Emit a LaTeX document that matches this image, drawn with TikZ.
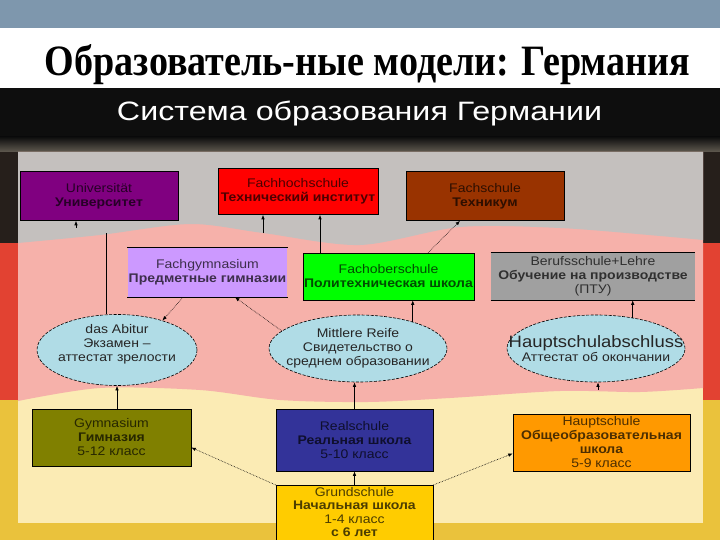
\documentclass[tikz,border=0pt]{standalone}
\usepackage{fontspec}
\usepackage{graphicx}
\usetikzlibrary{shapes.geometric,arrows.meta}
\setmainfont{Liberation Serif}
\newfontfamily\boxfont[FakeStretch=1.12]{Liberation Sans}
\newfontfamily\headfont{Liberation Sans}
\definecolor{topbar}{RGB}{126,151,173}
\definecolor{band}{RGB}{14,14,14}
\definecolor{stripbrown}{RGB}{96,90,80}
\definecolor{flagblack}{RGB}{38,31,27}
\definecolor{flagred}{RGB}{226,66,50}
\definecolor{flaggold}{RGB}{234,194,60}
\definecolor{panelgrey}{RGB}{196,192,190}
\definecolor{panelpink}{RGB}{246,177,170}
\definecolor{panelyellow}{RGB}{251,235,180}
\definecolor{uni}{RGB}{128,0,128}
\definecolor{fhs}{RGB}{255,0,0}
\definecolor{fsch}{RGB}{153,51,0}
\definecolor{fgym}{RGB}{204,153,255}
\definecolor{fos}{RGB}{0,255,0}
\definecolor{bsl}{RGB}{160,160,160}
\definecolor{examblue}{RGB}{176,220,230}
\definecolor{gym}{RGB}{128,128,0}
\definecolor{real}{RGB}{51,51,153}
\definecolor{hs}{RGB}{255,153,0}
\definecolor{grund}{RGB}{255,204,0}
\newcommand{\drawedges}[1]{\draw[line] (#1.north west) -- (#1.north east) (#1.south west) -- (#1.south east);}
\tikzset{
  school/.style={draw, line width=.6pt, fill=#1, text=#1!30!black, align=center,
    font=\boxfont\fontsize{12.5}{14}\selectfont, inner sep=1pt},
  openschool/.style={school=#1, draw=none},
  exam/.style={ellipse, draw, line width=.6pt, dash pattern=on 3pt off 1.5pt, fill=examblue,
    text=black!85, align=center, font=\boxfont\fontsize{12.5}{14}\selectfont,
    inner xsep=-25pt, inner ysep=-10pt},
  line/.style={line width=.6pt},
  arr/.style={line, -{Latex[length=4.5pt,width=3.5pt]}},
  dotarr/.style={arr, densely dotted}
}
\begin{document}
\begin{tikzpicture}[x=1pt,y=-1pt]
\useasboundingbox (0,0) rectangle (720,540);
\fill[topbar] (0,0) rectangle (720,28);
\fill[white] (0,28) rectangle (720,88);
\fill[band] (0,88) rectangle (720,137);
\fill[flagblack] (0,137) rectangle (720,243);
\fill[flagred] (0,243) rectangle (720,400);
\fill[flaggold] (0,400) rectangle (720,540);
\shade[top color=band, bottom color=stripbrown] (0,137) rectangle (720,152);
\fill[panelyellow] (18,152) rectangle (703,523);
\fill[panelpink] (18,152) -- plot[smooth] coordinates {(18,401) (100,388) (200,390) (280,400) (368,402) (450,398) (560,391) (640,392) (703,388)} -- (703,152) -- cycle;
\fill[panelgrey] (18,152) -- plot[smooth] coordinates {(18,243) (100,235) (190,224) (263,233) (360,245) (460,227) (560,228) (660,236) (703,240)} -- (703,152) -- cycle;
\node[anchor=base, inner sep=0pt] (title) at (367.5,76) {\resizebox{645pt}{31pt}{\bfseries Образователь-ные модели: Германия}};
\node[anchor=base, inner sep=0pt, text=white] (subtitle) at (359.5,121) {\resizebox{485pt}{19.5pt}{\headfont Система образования Германии}};
\node[school=uni, minimum width=158pt, minimum height=49pt] (uni) at (99,196) {Universität\\\textbf{Университет}};
\node[school=fhs, minimum width=160pt, minimum height=46pt] (fhs) at (298,191.5) {Fachhochschule\\\textbf{Технический институт}};
\node[school=fsch, minimum width=158pt, minimum height=49pt] (fsch) at (485,196) {Fachschule\\\textbf{Техникум}};
\node[openschool=fgym, minimum width=159pt, minimum height=49pt] (fgym) at (207.5,272.5) {Fachgymnasium\\\textbf{Предметные гимназии}};
\node[school=fos, minimum width=159pt, minimum height=47pt] (fos) at (388.5,276.5) {Fachoberschule\\\textbf{Политехническая школа}};
\node[openschool=bsl, minimum width=204pt, minimum height=47pt] (bsl) at (593,276.5) {Berufsschule+Lehre\\\textbf{Обучение на производстве}\\(ПТУ)};
\drawedges{fgym}\drawedges{bsl}
\node[exam, minimum width=160pt, minimum height=71pt] (abitur) at (117,350) {das Abitur\\Экзамен –\\аттестат зрелости\\\mbox{}};
\node[exam, minimum width=178pt, minimum height=67pt] (mr) at (358,348.5) {Mittlere Reife\\Свидетельство о\\среднем образовании};
\node[exam, minimum width=178pt, minimum height=67pt] (hsa) at (596,348.5) {{\fontsize{16.5}{18}\selectfont Hauptschulabschluss}\\Аттестат об окончании};
\node[school=gym, minimum width=159pt, minimum height=57pt] (gym) at (111.5,437.5) {Gymnasium\\\textbf{Гимназия}\\5-12 класс};
\node[school=real, minimum width=157pt, minimum height=62pt] (real) at (354.5,440) {Realschule\\\textbf{Реальная школа}\\5-10 класс};
\node[school=hs, minimum width=177pt, minimum height=57pt] (hs) at (601.5,442.5) {Hauptschule\\\textbf{Общеобразовательная}\\\textbf{школа}\\5-9 класс};
\node[school=grund, minimum width=157pt, anchor=north, inner ysep=2pt, text depth=12pt, font=\boxfont\fontsize{12.5}{13.5}\selectfont] (grund) at (354.5,485) {Grundschule\\\textbf{Начальная школа}\\1-4 класс\\\textbf{с 6 лет}};
\coordinate (abiturend) at (106,233);
\coordinate (unitip) at (76,228);
\coordinate (fhsstub) at (263,233);
\coordinate (hsastub) at (598,390);
\draw[line] ([xshift=-11pt]abitur.north) -- (abiturend);
\draw[arr] (unitip) -- (unitip |- uni.south);
\draw[arr] (fhsstub) -- (fhsstub |- fhs.south);
\draw[arr] ([xshift=-68.5pt]fos.north) -- ([xshift=22pt]fhs.south);
\draw[dotarr] ([xshift=39.5pt]fos.north) -- ([xshift=-25pt]fsch.south);
\draw[dotarr] ([xshift=-24.5pt]fgym.south) -- (abitur.33);
\draw[dotarr] (mr.167) -- ([xshift=27.5pt]fgym.south);
\draw[arr] (mr.26) -- (mr.26 |- fos.south);
\draw[arr] (hsa.40) -- (hsa.40 |- bsl.south);
\draw[arr] (hsastub) -- (hsastub |- hsa.south);
\draw[arr] (abitur.south |- gym.north) -- (abitur.south);
\draw[arr] (real.north) -- (real.north |- mr.south);
\draw[arr] (grund.north) -- (real.south);
\draw[dotarr] (grund.north west) -- ([yshift=-10pt]gym.east);
\draw[dotarr] (grund.north east) -- ([yshift=-11pt]hs.west);
\end{tikzpicture}
\end{document}
